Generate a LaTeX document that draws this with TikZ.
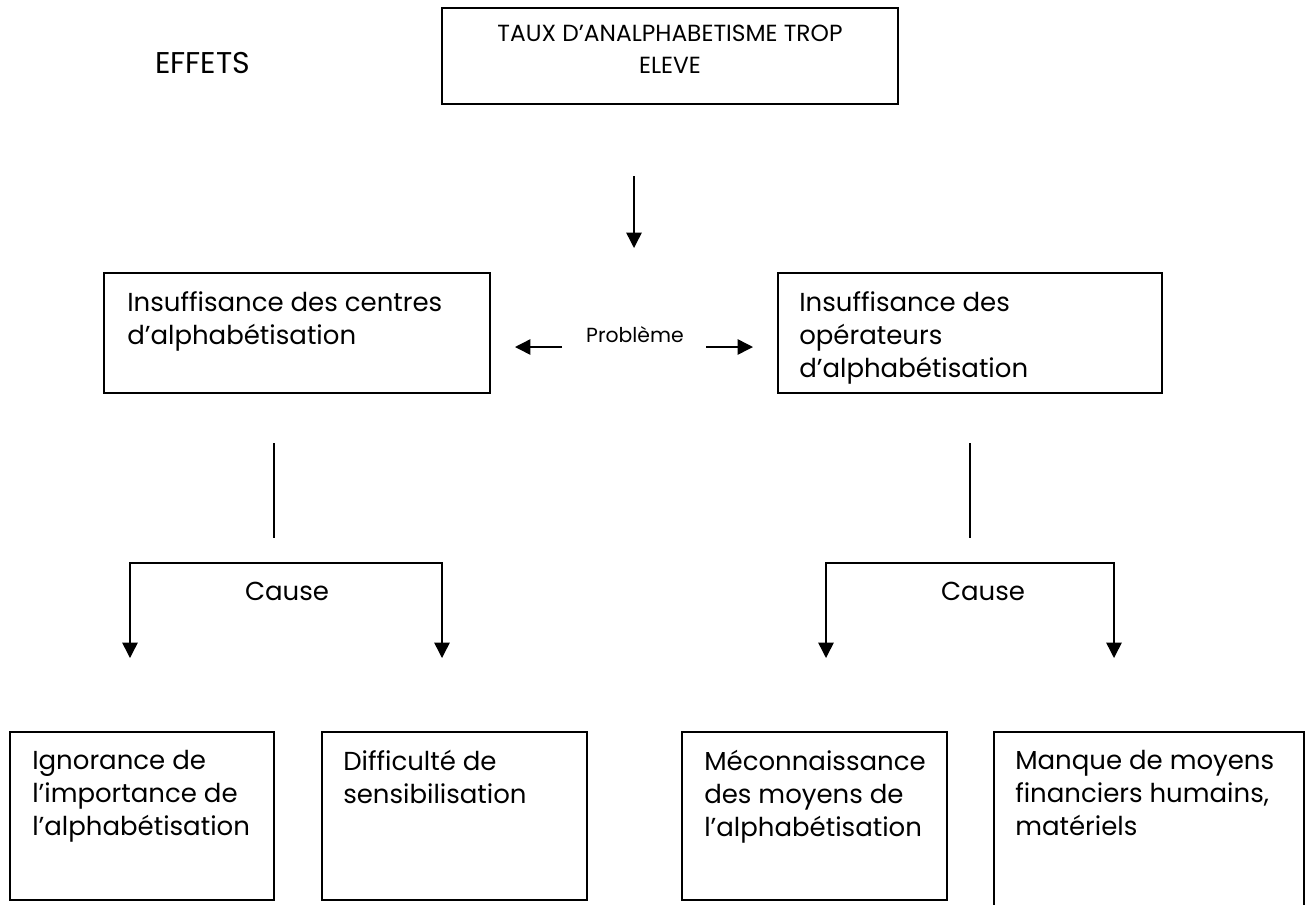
\documentclass[tikz,border=0pt]{standalone}
\usepackage{fontspec}
\setmainfont{Poppins}
\usetikzlibrary{arrows.meta,fit}

\tikzset{
    cell/.style={draw, line width=1.3pt, inner sep=0pt},
    txt/.style={inner sep=0pt, anchor=north west, align=left, font=\fontsize{19.5}{24.75}\selectfont},
    small/.style={inner sep=0pt, font=\fontsize{17.5}{24}\selectfont},
    arr/.style={line width=1.1pt, -{Triangle[length=11.5pt,width=11.5pt]}},
    link/.style={line width=0.8pt}
}

\begin{document}
\begin{tikzpicture}[x=0.75pt, y=-0.75pt]
        \useasboundingbox (0,0) rectangle (1313,904);

        \node [inner sep=0pt, anchor=base west, font=\fontsize{22.5}{28}\selectfont] (effets) at (155,73) {EFFETS};

        \node [cell, fit={(442,8) (898,104)}] (taux) {};
        \node [small, anchor=north, align=center] (tauxtxt) at (670,25) {TAUX D’ANALPHABETISME TROP\\ELEVE};

        \coordinate (d0) at (634,176);
        \coordinate (d1) at (634,248);
        \draw [arr] (d0) -- (d1);

        \node [cell, fit={(104,273) (490,393)}] (centres) {};
        \node [txt] (centrestxt) at (127,291) {Insuffisance des centres\\d’alphabétisation};

        \node [cell, fit={(778,273) (1162,393)}] (operateurs) {};
        \node [txt] (operateurstxt) at (799,291) {Insuffisance des\\opérateurs\\d’alphabétisation};

        \node [inner sep=0pt, anchor=base, font=\fontsize{15.3}{20}\selectfont] (prob) at (635,342) {Problème};
        \coordinate (pl0) at (562,347);
        \coordinate (pl1) at (515,347);
        \coordinate (pr0) at (706,347);
        \coordinate (pr1) at (753,347);
        \draw [arr] (pl0) -- (pl1);
        \draw [arr] (pr0) -- (pr1);

        \coordinate (vl0) at (274,443);
        \coordinate (vl1) at (274,538);
        \draw [link] (vl0) -- (vl1);
        \coordinate (bl) at (274,563);
        \coordinate (bl1) at (130,658);
        \coordinate (bl2) at (442,658);
        \draw [arr] (bl) -| (bl1);
        \draw [arr] (bl) -| (bl2);
        \node [inner sep=0pt, anchor=base, font=\fontsize{19.5}{24.75}\selectfont] (causel) at (287,600) {Cause};

        \coordinate (vr0) at (970,443);
        \coordinate (vr1) at (970,538);
        \draw [link] (vr0) -- (vr1);
        \coordinate (br) at (970,563);
        \coordinate (br1) at (826,658);
        \coordinate (br2) at (1114,658);
        \draw [arr] (br) -| (br1);
        \draw [arr] (br) -| (br2);
        \node [inner sep=0pt, anchor=base, font=\fontsize{19.5}{24.75}\selectfont] (causer) at (983,600) {Cause};

        \node [cell, fit={(10,732) (274,900)}] (ignorance) {};
        \node [txt] (ignorancetxt) at (32,750) {Ignorance de\\l’importance de\\l’alphabétisation};

        \node [cell, fit={(322,732) (587,900)}] (difficulte) {};
        \node [txt] (difficultetxt) at (343,750) {Difficulté de\\sensibilisation};

        \node [cell, fit={(682,732) (947,900)}] (meconnaissance) {};
        \node [txt] (meconnaissancetxt) at (704,750) {Méconnaissance\\des moyens de\\l’alphabétisation};

        \node [cell, fit={(994,732) (1304,912)}] (manque) {};
        \node [txt] (manquetxt) at (1015,750) {Manque de moyens\\financiers humains,\\matériels};

\end{tikzpicture}
\end{document}
